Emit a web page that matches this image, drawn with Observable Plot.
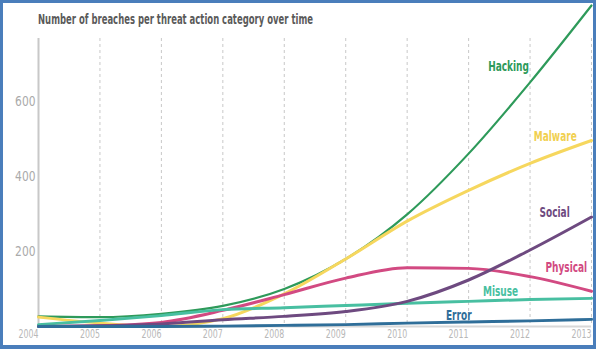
<!DOCTYPE html>
<html>
<head>
<meta charset="utf-8">
<script src="https://cdn.jsdelivr.net/npm/d3@7"></script>
<script src="https://cdn.jsdelivr.net/npm/@observablehq/plot@0.6"></script>
<style>
  html, body { margin: 0; padding: 0; background: #fff; }
  #wrap { position: relative; width: 596px; height: 349px; overflow: hidden; }
  #chart { position: absolute; left: 0; top: 0; }
  #title { position: absolute; left: 38px; top: 10px; font-family: "DejaVu Sans Condensed", "DejaVu Sans", sans-serif; font-weight: bold; font-size: 14.5px; line-height: 18px; color: #5a5a5a; white-space: nowrap; transform-origin: 0 0; display: inline-block; }
  #frame { position: absolute; left: 0; top: 0; width: 596px; height: 349px; box-sizing: border-box; border: 3px solid #4a7ebb; border-bottom-width: 4px; pointer-events: none; }
</style>
</head>
<body>
<div id="wrap">
  <div id="chart"></div>
  <div id="title">Number of breaches per threat action category over time</div>
  <div id="frame"></div>
</div>
<script>
const years = [2004, 2005, 2006, 2007, 2008, 2009, 2010, 2011, 2012, 2013];
const hacking  = [27, 25, 34, 55, 100, 180, 299, 461, 651, 856];
const malware  = [25, 9, 0, 21, 87, 180, 281, 363, 435, 496];
const social   = [0, 2, 7, 18, 27, 40, 67, 124, 204, 292];
const physical = [0, 2, 11, 43, 85, 129, 157, 155, 133, 94];
const misuse   = [5, 16, 29, 45, 50, 56, 62, 67, 72, 75];
const errorS   = [0, 0, 0, 1, 3, 5, 9, 12, 15, 19];
const seriesNames = ["Hacking", "Malware", "Physical", "Misuse", "Social", "Error"];
const seriesValues = [hacking, malware, physical, misuse, social, errorS];
const colors = ["#2e9a5a", "#f6d75e", "#d24a82", "#48bfa1", "#6e4a80", "#2f6e99"];
const widths = [2.2, 3, 3, 3, 3, 3];
// label anchor points (in data units)
const labelNames = ["Hacking", "Malware", "Social", "Physical", "Misuse", "Error"];
const labelYears = [2011.65, 2012.41, 2012.40, 2012.59, 2011.52, 2010.84];
const labelValues = [692, 507, 303, 156, 94, 28];
const labelColors = ["#2e9a5a", "#f1d050", "#6e4a80", "#d24a82", "#48bfa1", "#2f6e99"];
const yTicks = [200, 400, 600];
const gridYears = [2005, 2006, 2007, 2008, 2009, 2010, 2011, 2012, 2013];

const font = '"DejaVu Sans Condensed", "DejaVu Sans", sans-serif';

const lineMarks = seriesNames.map((name, i) => {
  const rows = years.map((yr, j) => ({year: yr, value: seriesValues[i][j]}));
  return Plot.line(rows, {x: "year", y: "value", stroke: colors[i], strokeWidth: widths[i], curve: "monotone-x"});
});
const labels = labelNames.map((n, i) => ({name: n, year: labelYears[i], value: labelValues[i], color: labelColors[i]}));

const chart = Plot.plot({
  width: 596,
  height: 349,
  marginLeft: 38,
  marginRight: 5,
  marginTop: 38,
  marginBottom: 23,
  style: {fontFamily: font, background: "transparent", overflow: "visible"},
  x: {domain: [2004, 2013]},
  y: {domain: [0, 768]},
  marks: [
    Plot.ruleX(gridYears, {stroke: "#c8c8c8", strokeDasharray: "3,3", strokeWidth: 1}),
    Plot.ruleY([0], {stroke: "#d8d8d8", strokeWidth: 2}),
    Plot.ruleX([2004], {stroke: "#c8c8c8", strokeWidth: 2}),
    Plot.axisX({ticks: years, tickFormat: d => String(d), tickSize: 0, tickPadding: 0, dx: -10, dy: 3, fill: "#b8b8b8", fontSize: 11.5, label: null, className: "xtick"}),
    Plot.axisY({ticks: yTicks, tickSize: 0, tickPadding: 3, fill: "#aaaaaa", fontSize: 14, label: null, className: "ytick"}),
    ...lineMarks,
    Plot.text(labels, {x: "year", y: "value", text: "name", fill: "color", fontSize: 13.5, fontWeight: "bold", textAnchor: "middle", className: "serieslabel"})
  ]
});
document.getElementById("chart").appendChild(chart);

// condense text to mimic the narrow typeface of the original
function condense(selector, factor) {
  chart.querySelectorAll(selector + " text").forEach(t => {
    const w = t.getComputedTextLength();
    t.setAttribute("textLength", (w * factor).toFixed(1));
    t.setAttribute("lengthAdjust", "spacingAndGlyphs");
  });
}
condense(".serieslabel", 0.74);
condense(".xtick", 0.76);
condense(".ytick", 0.85);
const title = document.getElementById("title");
const tw = title.getBoundingClientRect().width;
title.style.transform = `scaleX(${275 / tw})`;
</script>
</body>
</html>
